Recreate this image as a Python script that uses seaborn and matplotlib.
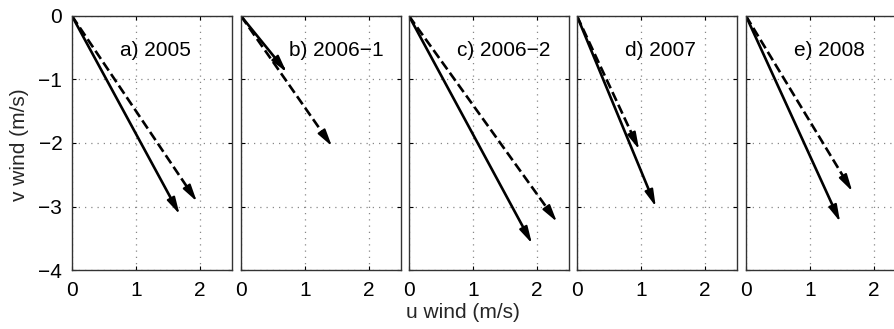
import matplotlib
matplotlib.use("Agg")
import matplotlib.pyplot as plt
import seaborn as sns
import numpy as np

# Data
panels = ["a) 2005", "b) 2006\u22121", "c) 2006\u22122", "d) 2007", "e) 2008"]
solid_u = [1.68, 0.71, 1.92, 1.23, 1.47]
solid_v = [-3.12, -0.88, -3.58, -3.00, -3.24]
dash_u = [1.95, 1.42, 2.31, 0.97, 1.66]
dash_v = [-2.92, -2.05, -3.24, -2.10, -2.76]
xticks = [0, 1, 2]
yticks = [0, -1, -2, -3, -4]

sns.set_theme(style="ticks")
plt.rcParams["font.family"] = ["Liberation Sans", "DejaVu Sans"]
plt.rcParams["axes.unicode_minus"] = True

W, H = 894, 329
fig = plt.figure(figsize=(W / 100, H / 100), dpi=100)

lefts = [72, 241, 409, 577, 746]
ax_w = 160
ax_top = 16
ax_bot = 270
FS = 15

def draw_arrow(ax, u, v, ls):
    sns.lineplot(x=[0, u * 0.94], y=[0, v * 0.94], ax=ax, color="black",
                 linewidth=1.9, linestyle=ls, dashes=(ls == "--") and (4.2, 2.8) or "",
                 sort=False, legend=False)
    n = np.hypot(u, v)
    d = 0.25
    ax.annotate("", xy=(u, v), xytext=(u - d * u / n, v - d * v / n),
                arrowprops=dict(arrowstyle="-|>,head_length=0.85,head_width=0.22",
                                color="black", lw=1.4, shrinkA=0, shrinkB=0))

for i, name in enumerate(panels):
    ax = fig.add_axes([lefts[i] / W, 1 - ax_bot / H, ax_w / W, (ax_bot - ax_top) / H])
    ax.set_xlim(0, 2.5)
    ax.set_ylim(-4, 0)
    ax.set_xticks(xticks)
    ax.set_yticks(yticks)
    ax.grid(True, linestyle=(0, (1, 4)), color="#888888", linewidth=0.9)
    ax.tick_params(direction="in", length=3, width=0.8, top=True, right=True,
                   labelsize=FS, colors="black")
    ax.tick_params(axis="x", pad=8)
    ax.tick_params(axis="y", pad=7)
    if i > 0:
        ax.set_yticklabels([])
    else:
        ax.set_yticklabels(["0", "\u22121", "\u22122", "\u22123", "\u22124"])
    ax.set_xticklabels([str(t) for t in xticks])
    for sp in ax.spines.values():
        sp.set_linewidth(1.0)
        sp.set_color("#333333")
    draw_arrow(ax, dash_u[i], dash_v[i], "--")
    draw_arrow(ax, solid_u[i], solid_v[i], "-")
    ax.text(0.75, -0.54, name, ha="left", va="center", fontsize=FS, color="black")
    ax.set_xlabel("")
    ax.set_ylabel("")

fig.text(20 / W, 1 - 145 / H, "v wind (m/s)", rotation=90, ha="center", va="center", fontsize=FS)
fig.text(463 / W, 1 - 312 / H, "u wind (m/s)", ha="center", va="center", fontsize=FS)

fig.savefig("out.png", dpi=100)
